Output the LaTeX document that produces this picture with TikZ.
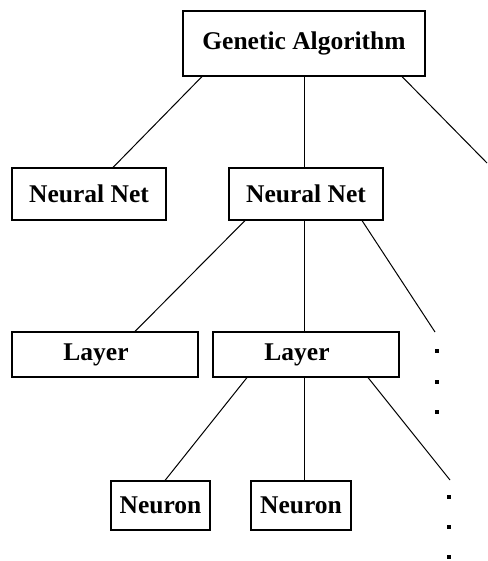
\documentclass[tikz,border=0pt]{standalone}
\usepackage{fontspec}
\setmainfont{Liberation Serif}
\usetikzlibrary{calc}
\begin{document}
\begin{tikzpicture}[x=1pt,y=-1pt,
  box/.style={draw,line width=1.1pt,inner sep=0pt,font=\fontsize{25.5}{28}\selectfont\bfseries},
  txt/.style={inner sep=0pt,font=\fontsize{25.5}{28}\selectfont\bfseries},
  conn/.style={line width=1pt},
  dot/.style={fill=black,rectangle,inner sep=0pt,minimum size=3.5pt}]
\useasboundingbox[fill=white] (0,0) rectangle (487,561);
\node[box,minimum width=242pt,minimum height=65pt] (ga) at (304,43.5) {Genetic Algorithm};
\node[box,minimum width=154pt,minimum height=52pt] (nn1) at (89,194) {Neural Net};
\node[box,minimum width=154pt,minimum height=52pt] (nn2) at (306,194) {Neural Net};
\node[box,minimum width=186pt,minimum height=45pt] (l1) at (105,354.5) {};
\node[txt] (l1t) at ($(l1)+(-9,0)$) {Layer};
\node[box,minimum width=186pt,minimum height=45pt] (l2) at (306,354.5) {};
\node[txt] (l2t) at ($(l2)+(-9,0)$) {Layer};
\node[box,minimum width=99pt,minimum height=49pt] (n1) at (160.5,505.5) {Neuron};
\node[box,minimum width=100pt,minimum height=49pt] (n2) at (301,505.5) {Neuron};
\coordinate (offr) at (487,163);
\coordinate (d1top) at (435,332);
\coordinate (d2top) at (450,480);
\draw[conn] ($(ga.south)+(-102,0)$) -- ($(nn1.north)+(24,0)$);
\draw[conn] (ga.south) -- (ga.south |- nn2.north);
\draw[conn] ($(ga.south)+(98,0)$) -- (offr);
\draw[conn] ($(nn2.south)+(-61,0)$) -- ($(l1.north)+(30,0)$);
\draw[conn] ($(nn2.south)+(-2,0)$) -- ($(l2.north)+(-2,0)$);
\draw[conn] ($(nn2.south)+(56,0)$) -- (d1top);
\draw[conn] ($(l2.south)+(-59,0)$) -- ($(n1.north)+(4.5,0)$);
\draw[conn] ($(l2.south)+(-2,0)$) -- ($(n2.north)+(3,0)$);
\draw[conn] ($(l2.south)+(62,0)$) -- (d2top);
\foreach \y [count=\i] in {351,382,412} \node[dot] (da\i) at (437,\y) {};
\foreach \y [count=\i] in {497,527,557} \node[dot] (db\i) at (449,\y) {};
\end{tikzpicture}
\end{document}
